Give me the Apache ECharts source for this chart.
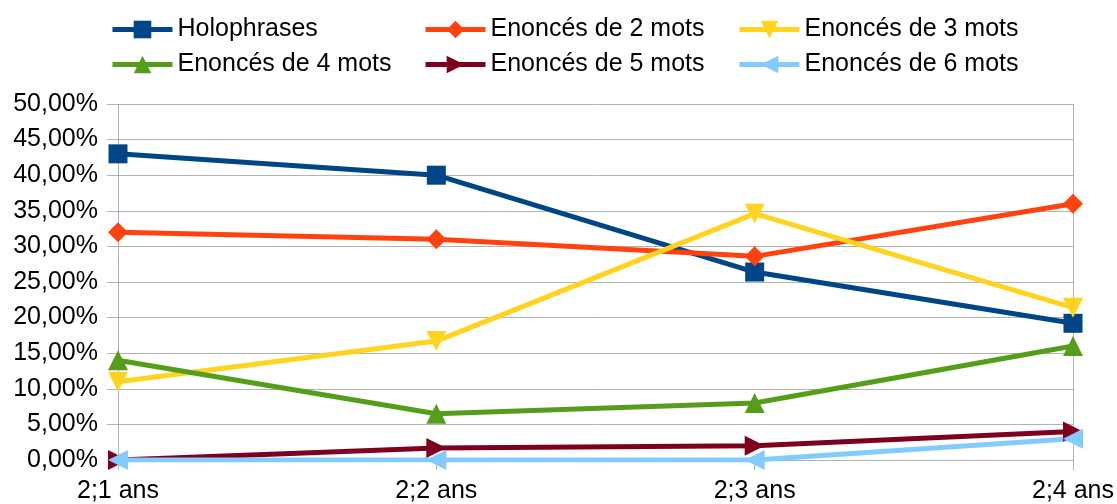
<!DOCTYPE html>
<html>
<head>
<meta charset="utf-8">
<script src="https://cdn.jsdelivr.net/npm/echarts@6/dist/echarts.min.js"></script>
<style>
  html, body { margin: 0; padding: 0; background: #fff; }
  #chart { width: 1117px; height: 504px; }
</style>
</head>
<body>
<div id="chart"></div>
<script>
// Age categories on the x axis
const categories = ['2;1 ans', '2;2 ans', '2;3 ans', '2;4 ans'];

// Share of utterances by length (percent)
const holophrases = [43.0, 40.0, 26.4, 19.2];
const mots2 = [32.0, 31.0, 28.6, 36.0];
const mots3 = [11.0, 16.7, 34.6, 21.4];
const mots4 = [14.0, 6.5, 8.0, 16.0];
const mots5 = [0.0, 1.7, 2.0, 4.0];
const mots6 = [0.0, 0.0, 0.0, 3.0];

const seriesNames = ['Holophrases', 'Enoncés de 2 mots', 'Enoncés de 3 mots',
                     'Enoncés de 4 mots', 'Enoncés de 5 mots', 'Enoncés de 6 mots'];
const seriesData = [holophrases, mots2, mots3, mots4, mots5, mots6];
const colors = ['#004586', '#ff420e', '#ffd320', '#579d1c', '#7e0021', '#83caff'];
const symbols = ['rect', 'diamond', 'triangle', 'triangle', 'triangle', 'triangle'];
const rotations = [0, 0, 180, 0, -90, 90];

const FONT = 'Liberation Sans';
const GRAY = '#b3b3b3';

const fmtPct = v => v.toFixed(2).replace('.', ',') + '%';

// Legend laid out as a 3 x 2 grid
const legendPos = [[105, 12], [418, 12], [732, 12], [105, 47], [418, 47], [732, 47]];
const legends = seriesNames.map((name, i) => ({
  data: [name],
  left: legendPos[i][0],
  top: legendPos[i][1],
  itemWidth: 60,
  itemHeight: 22,
  itemGap: 0,
  lineStyle: { width: 5 },
  textStyle: { fontFamily: FONT, fontSize: 25, color: '#000' }
}));

const series = seriesNames.map((name, i) => ({
  name: name,
  type: 'line',
  data: seriesData[i],
  color: colors[i],
  symbol: symbols[i],
  symbolRotate: rotations[i],
  symbolSize: symbols[i] === 'rect' ? 19 : 20,
  showAllSymbol: true,
  lineStyle: { width: 5, color: colors[i] },
  itemStyle: { color: colors[i] },
  emphasis: { disabled: true },
  animation: false
}));

const chart = echarts.init(document.getElementById('chart'), null, { renderer: 'canvas' });
chart.setOption({
  animation: false,
  legend: legends,
  grid: { left: 118, right: 44, top: 104, bottom: 44, containLabel: false },
  xAxis: {
    type: 'category',
    data: categories,
    boundaryGap: false,
    axisLine: { show: true, lineStyle: { color: GRAY, width: 1 } },
    axisTick: { show: true, length: 10, alignWithLabel: true, lineStyle: { color: GRAY } },
    axisLabel: { fontFamily: FONT, fontSize: 25, color: '#000', margin: 19 },
    splitLine: { show: false }
  },
  yAxis: [{
    type: 'value',
    min: 0,
    max: 50,
    interval: 5,
    axisLine: { show: true, lineStyle: { color: GRAY, width: 1 } },
    axisTick: { show: true, length: 11, lineStyle: { color: GRAY } },
    axisLabel: { fontFamily: FONT, fontSize: 25, color: '#000', margin: 20, formatter: fmtPct },
    splitLine: { show: true, lineStyle: { color: GRAY, width: 1 } }
  }, {
    type: 'value',
    position: 'right',
    min: 0,
    max: 50,
    interval: 5,
    axisLine: { show: true, lineStyle: { color: GRAY, width: 1 } },
    axisTick: { show: false },
    axisLabel: { show: false },
    splitLine: { show: false }
  }],
  series: series
});
</script>
</body>
</html>
